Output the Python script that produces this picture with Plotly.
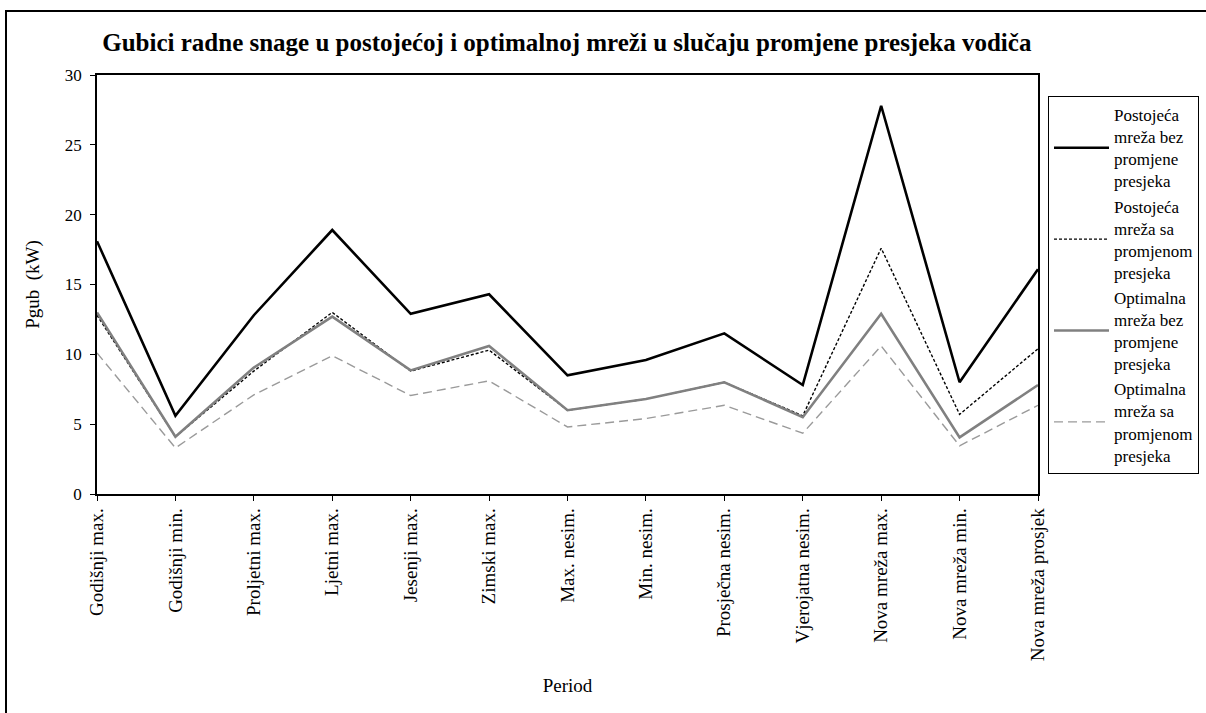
import plotly.graph_objects as go

periods = [
    "Godišnji max.", "Godišnji min.", "Proljetni max.", "Ljetni max.",
    "Jesenji max.", "Zimski max.", "Max. nesim.", "Min. nesim.",
    "Prosječna nesim.", "Vjerojatna nesim.", "Nova mreža max.",
    "Nova mreža min.", "Nova mreža prosjek",
]

postojeca_bez = [18.1, 5.6, 12.8, 18.9, 12.9, 14.3, 8.5, 9.6, 11.5, 7.8, 27.8, 8.0, 16.1]
postojeca_sa = [12.8, 4.1, 8.8, 13.0, 8.8, 10.3, 6.0, 6.8, 8.0, 5.6, 17.6, 5.7, 10.4]
optimalna_bez = [13.0, 4.1, 9.05, 12.7, 8.85, 10.6, 6.0, 6.8, 8.0, 5.5, 12.9, 4.05, 7.8]
optimalna_sa = [10.1, 3.3, 7.1, 9.9, 7.05, 8.1, 4.8, 5.4, 6.35, 4.35, 10.6, 3.45, 6.35]

series_names = [
    "Postojeća<br>mreža bez<br>promjene<br>presjeka",
    "Postojeća<br>mreža sa<br>promjenom<br>presjeka",
    "Optimalna<br>mreža bez<br>promjene<br>presjeka",
    "Optimalna<br>mreža sa<br>promjenom<br>presjeka",
]

serif = "Liberation Serif, Times New Roman, serif"

x_idx = list(range(len(periods)))

styles = [
    dict(color="#000000", width=2.6, dash="solid"),
    dict(color="#000000", width=1.4, dash="3px,2px"),
    dict(color="#808080", width=2.6, dash="solid"),
    dict(color="#9a9a9a", width=1.4, dash="9px,5px"),
]

fig = go.Figure()
for i, (name, vals, st) in enumerate(zip(series_names,
                                         [postojeca_bez, postojeca_sa, optimalna_bez, optimalna_sa],
                                         styles)):
    fig.add_trace(go.Scatter(
        x=x_idx, y=vals, name=name, mode="lines",
        line=st, legendgroup=f"g{i}",
    ))

W, H = 1206, 713
L, R, T, B = 97, 168, 75, 219
pw, ph = W - L - R, H - T - B


def px_x(px):
    return (px - L) / pw


def px_y(py):
    return (H - B - py) / ph


fig.update_layout(
    width=W, height=H,
    margin=dict(l=L, r=R, t=T, b=B, autoexpand=False),
    paper_bgcolor="white", plot_bgcolor="white",
    font=dict(family=serif, color="#000000", size=15),
    title=dict(
        text="<b>Gubici radne snage u postojećoj i optimalnoj mreži u slučaju promjene presjeka vodiča</b>",
        x=0.47, xref="container", xanchor="center",
        y=1 - 42 / H, yref="container", yanchor="middle",
        font=dict(family=serif, size=25, color="#000000"),
    ),
    xaxis=dict(
        range=[0, len(periods) - 1],
        tickmode="array", tickvals=x_idx, ticktext=periods,
        tickangle=-90, ticks="outside", ticklen=5, tickcolor="#000000",
        showline=True, linecolor="#000000", linewidth=1.5, mirror=True,
        showgrid=False, zeroline=False,
        tickfont=dict(family=serif, size=19),
        title=dict(text="Period", font=dict(family=serif, size=19), standoff=18),
    ),
    yaxis=dict(
        range=[0, 30], dtick=5,
        ticks="outside", ticklen=5, tickcolor="#000000",
        showline=True, linecolor="#000000", linewidth=1.5, mirror=True,
        showgrid=False, zeroline=False,
        tickfont=dict(family=serif, size=17),
        ticklabelstandoff=5,
        title=dict(text="Pgub  (kW)", font=dict(family=serif, size=19), standoff=20),
    ),
    legend=dict(
        x=px_x(1048), y=px_y(96), xanchor="left", yanchor="top",
        bordercolor="#000000", borderwidth=1, bgcolor="white",
        font=dict(family=serif, size=17),
        tracegroupgap=0, itemwidth=55,
    ),
    shapes=[
        dict(type="rect", xref="paper", yref="paper",
             x0=px_x(6), x1=px_x(1215), y0=px_y(725), y1=px_y(11),
             line=dict(color="#000000", width=2), fillcolor="rgba(0,0,0,0)",
             layer="below"),
    ],
)

fig.write_html("out.html")
